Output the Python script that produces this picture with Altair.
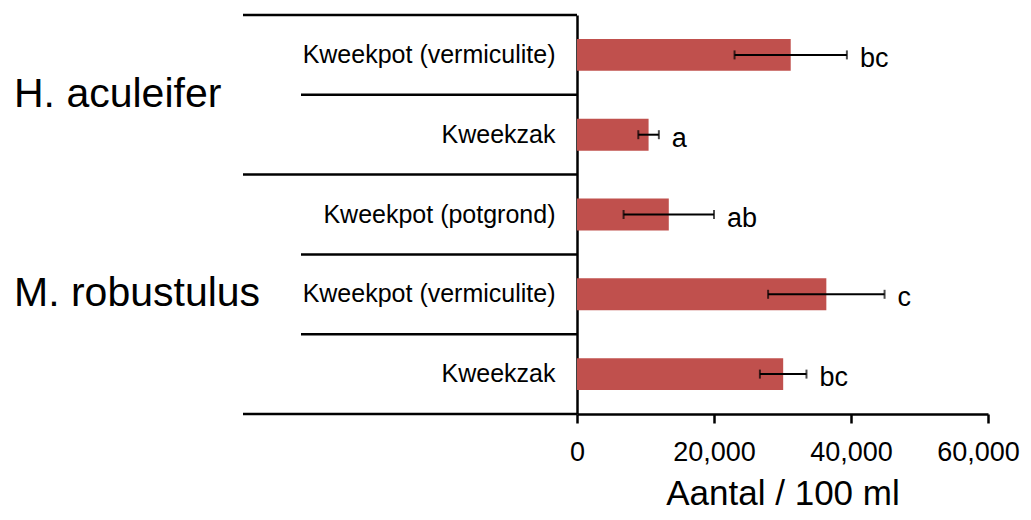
import altair as alt
import pandas as pd

# ---- data ----
groups = ["H. aculeifer", "H. aculeifer", "M. robustulus", "M. robustulus", "M. robustulus"]
labels = ["Kweekpot (vermiculite)", "Kweekzak", "Kweekpot (potgrond)",
          "Kweekpot (vermiculite)", "Kweekzak"]
values = [31200, 10450, 13400, 36400, 30100]
errors = [8200, 1500, 6600, 8500, 3400]
letters = ["bc", "a", "ab", "c", "bc"]
x_ticks = [0, 20000, 40000, 60000]
x_title = "Aantal / 100 ml"

FONT = "Liberation Sans"
BAR_COLOR = "#C0504D"

rows = [f"{g}|{l}" for g, l in zip(groups, labels)]
df = pd.DataFrame({"row": rows, "group": groups, "label": labels,
                   "value": values, "err": errors, "letter": letters})

n = len(rows)
bounds = []
for i in range(n + 1):
    major = i == 0 or i == n or groups[i] != groups[i - 1]
    bounds.append({"pos": i, "major": major})
bdf = pd.DataFrame(bounds)

gnames = list(dict.fromkeys(groups))
gcent = []
for g in gnames:
    idx = [i for i, gg in enumerate(groups) if gg == g]
    gcent.append({"group": g, "center": (idx[0] + idx[-1] + 1) / 2})
gdf = pd.DataFrame(gcent)

xscale = alt.Scale(domain=[0, 60000], nice=False)
yband = alt.Y("row:N", sort=rows)
ylin_scale = alt.Scale(domain=[0, n], reverse=True, nice=False, zero=False)

base = alt.Chart(df).transform_calculate(
    lo="datum.value - datum.err", hi="datum.value + datum.err")

last_tick = max(x_ticks)

bars = base.mark_bar(color=BAR_COLOR).encode(
    x=alt.X("value:Q", scale=xscale,
            axis=alt.Axis(values=x_ticks, format=",d", title=x_title,
                          grid=False, domainColor="black", domainWidth=2.5,
                          tickColor="black", tickWidth=2.5, tickSize=9,
                          labelFontSize=27, labelColor="black", labelFont=FONT,
                          labelPadding=16, labelFlush=False,
                          labelOffset={"condition": {"test": f"datum.value == {last_tick}",
                                                     "value": -10},
                                       "value": 0},
                          titleFontSize=35, titleFont=FONT, titleFontWeight="normal",
                          titleColor="black", titleBaseline="alphabetic", titleY=90)),
    y=alt.Y("row:N", sort=rows,
            scale=alt.Scale(paddingInner=0.6, paddingOuter=0.3),
            axis=alt.Axis(title=None, labelExpr="split(datum.label, '|')[1]",
                          ticks=False, grid=False, domainColor="black", domainWidth=2.5,
                          labelFontSize=25, labelPadding=22, labelColor="black",
                          labelFont=FONT, labelLimit=0)),
)

err_line = base.mark_rule(color="black", strokeWidth=2).encode(
    x=alt.X("lo:Q", scale=xscale), x2="hi:Q", y=yband)

err_lo = base.mark_tick(color="black", thickness=2, size=9).encode(
    x=alt.X("lo:Q", scale=xscale), y=yband)
err_hi = base.mark_tick(color="black", thickness=2, size=9).encode(
    x=alt.X("hi:Q", scale=xscale), y=yband)

letter_txt = base.mark_text(align="left", baseline="middle", dx=13, dy=4,
                            fontSize=27, font=FONT, color="black").encode(
    x=alt.X("hi:Q", scale=xscale), y=yband, text="letter:N")

main = alt.layer(bars, err_line, err_lo, err_hi, letter_txt)

major_rules = alt.Chart(bdf).transform_filter("datum.major").mark_rule(
    color="black", strokeWidth=2.5).encode(
    y=alt.Y("pos:Q", scale=ylin_scale, axis=None),
    x=alt.value(-334), x2=alt.value(0))
minor_rules = alt.Chart(bdf).transform_filter("!datum.major").mark_rule(
    color="black", strokeWidth=2.5).encode(
    y=alt.Y("pos:Q", scale=ylin_scale, axis=None),
    x=alt.value(-276), x2=alt.value(0))
group_txt = alt.Chart(gdf).mark_text(align="left", baseline="middle",
                                     fontSize=41, font=FONT, color="black").encode(
    y=alt.Y("center:Q", scale=ylin_scale, axis=None),
    x=alt.value(-563), text="group:N")

decor = alt.layer(major_rules, minor_rules, group_txt)

chart = alt.layer(main, decor).resolve_scale(y="independent").properties(
    width=411, height=399,
    autosize=alt.AutoSizeParams(type="none"),
    padding={"left": 569, "top": 7, "right": 35, "bottom": 98},
).configure(font=FONT).configure_view(strokeWidth=0, stroke=None)

chart.save("out.html", embed_options={"renderer": "svg", "actions": False})
